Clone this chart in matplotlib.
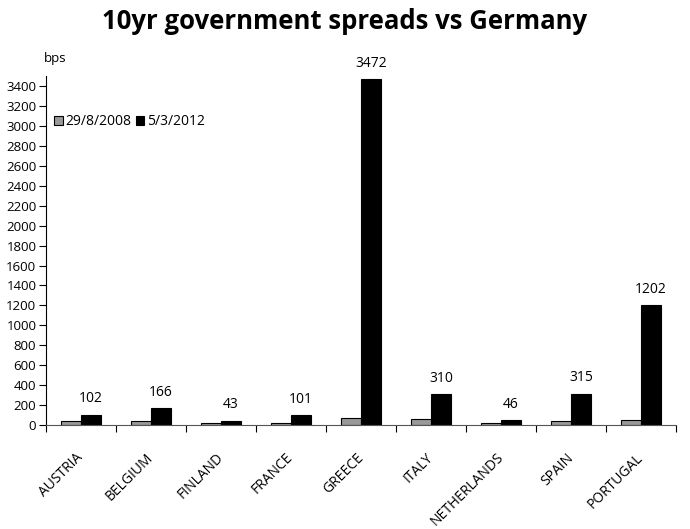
import matplotlib
matplotlib.use("Agg")
import matplotlib.pyplot as plt
import numpy as np

plt.rcParams['font.family'] = ['Open Sans', 'DejaVu Sans']

countries = ["AUSTRIA", "BELGIUM", "FINLAND", "FRANCE", "GREECE",
             "ITALY", "NETHERLANDS", "SPAIN", "PORTUGAL"]
spread_2008 = [38, 45, 24, 25, 72, 65, 25, 42, 55]
spread_2012 = [102, 166, 43, 101, 3472, 310, 46, 315, 1202]
series_labels = ["29/8/2008", "5/3/2012"]
yticks = list(range(0, 3401, 200))

fig = plt.figure(figsize=(6.9, 5.29), dpi=100)
ax = fig.add_axes([0.0667, 0.1966, 0.913, 0.6594])

x = np.arange(len(countries))
w = 0.286
ax.bar(x - w / 2, spread_2008, w, color="#999999", edgecolor="black",
       linewidth=0.8, label=series_labels[0])
ax.bar(x + w / 2, spread_2012, w, color="black", edgecolor="black",
       linewidth=0.8, label=series_labels[1])

for xi, v in zip(x, spread_2012):
    ax.annotate(f"{v}", (xi + w / 2, v), xytext=(0, 6), textcoords="offset points",
                ha="center", va="bottom", fontsize=10)

ax.set_xlim(-0.5, len(countries) - 0.5)
ax.set_ylim(0, 3500)
ax.set_yticks(yticks)
ax.set_yticklabels([str(t) for t in yticks], fontsize=9.5)
ax.tick_params(axis="y", direction="out", length=5, width=0.8, pad=2)

ax.set_xticks(x)
ax.set_xticklabels(countries, rotation=45, ha="right", va="center",
                   rotation_mode="anchor", fontsize=10)
ax.set_xticks(np.arange(-0.5, len(countries)), minor=True)
ax.tick_params(axis="x", which="major", length=0, pad=22)
ax.tick_params(axis="x", which="minor", direction="out", length=5, width=0.8)

for s in ["top", "right"]:
    ax.spines[s].set_visible(False)
ax.spines["left"].set_linewidth(0.8)
ax.spines["bottom"].set_linewidth(0.8)
ax.spines["bottom"].set_color("#555555")

fig.text(0.5, 0.96, "10yr government spreads vs Germany", ha="center", va="center",
         fontsize=18.5, fontweight="bold")
fig.text(0.08, 0.89, "bps", ha="center", va="center", fontsize=9.5)

ax.legend(loc="upper left", bbox_to_anchor=(0.0, 0.915), frameon=False, fontsize=10,
          handlelength=0.6, handleheight=0.6, handletextpad=0.2, columnspacing=0.3,
          ncol=2, borderaxespad=0.2)

fig.savefig("out.png", dpi=100)
